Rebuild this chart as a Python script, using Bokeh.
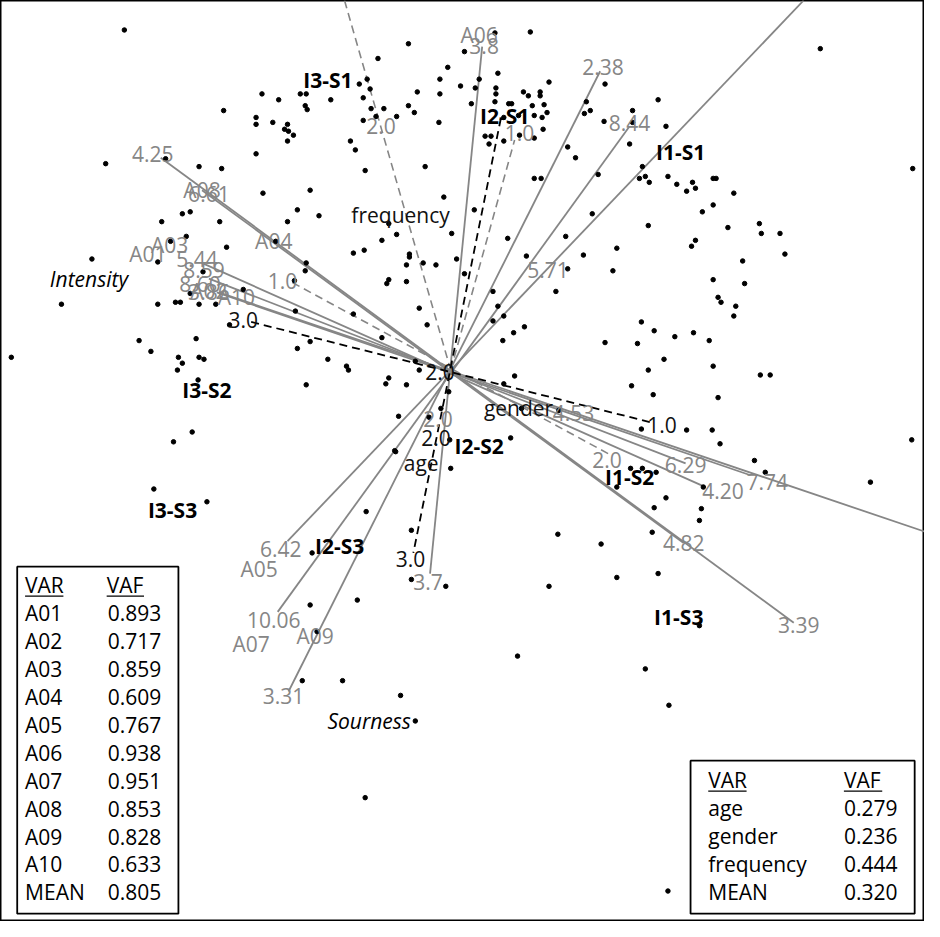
from bokeh.plotting import figure
from bokeh.models import Range1d, ColumnDataSource
from bokeh.embed import file_html
from bokeh.resources import INLINE
from bokeh.core.properties import value

FONT = "Open Sans"

# ---- object points (picture-pixel coordinates) ----
dot_points = [
    (126,30),(415,44),(384,59),(455,68),(447,80),(468,87),(365,85),(373,80),(376,90),(424,93),
    (447,95),(266,95),(283,101),(305,95),(311,95),(336,101),(369,99),(503,33),(539,32),(472,52),
    (506,74),(487,80),(483,89),(504,89),(504,95),(532,93),(537,97),(549,93),(549,97),(558,83),
    (615,85),(834,49),
    (310,107),(312,111),(377,110),(390,110),(415,107),(421,114),(382,118),(403,118),(369,122),(446,124),
    (227,112),(260,119),(260,126),(277,124),(292,126),(289,131),(293,133),(298,137),(292,143),(260,156),
    (356,143),(361,152),(371,173),(432,169),(107,166),(168,161),(202,169),(225,171),(267,196),(315,193),
    (451,200),(503,103),(479,105),(517,105),(520,105),(541,107),(553,106),(556,114),(543,117),(551,119),
    (527,117),(512,119),(552,131),(543,140),(493,138),(499,138),(497,146),(512,143),(528,137),(596,103),
    (600,112),(594,115),(614,123),(643,112),(643,124),(669,101),(677,128),(640,146),(577,149),(585,160),
    (608,177),(543,181),(550,181),(653,169),(656,179),(650,181),(660,185),(679,179),(688,187),(698,194),
    (704,185),(707,191),(725,181),(728,181),(746,196),(928,171),
    (302,213),(324,219),(292,225),(164,225),(185,217),(193,215),(223,225),(395,227),(403,238),(459,237),
    (388,244),(189,240),(173,245),(230,251),(280,245),(359,257),(370,254),(416,258),(416,261),(430,267),
    (413,269),(443,269),(464,263),(482,213),(472,278),(395,284),(393,288),(413,286),(310,275),(311,267),
    (299,285),(501,296),(516,242),(535,260),(575,240),(593,259),(577,273),(565,296),(725,208),(714,215),
    (659,229),(740,231),(772,227),(774,237),(793,237),(798,258),(627,252),(623,275),(707,244),(703,250),
    (755,265),(757,288),(725,284),(602,217),(93,263),(160,266),(206,276),(247,294),(193,298),
    (506,311),(512,321),(501,326),(522,338),(533,332),(511,346),(523,382),(300,316),(359,319),(426,313),
    (434,330),(388,343),(315,347),(302,354),(333,365),(352,372),(354,376),(311,391),(395,384),(392,390),
    (413,391),(426,376),(456,398),(422,367),(512,390),(730,302),(733,307),(748,311),(746,321),(652,327),
    (665,336),(686,342),(705,338),(721,346),(615,348),(648,349),(675,365),(725,372),(659,376),(62,309),
    (160,309),(178,307),(183,307),(202,309),(219,309),(233,330),(141,346),(199,344),(153,357),(11,363),
    (181,363),(185,369),(202,363),(207,365),(180,376),(201,386),(773,381),(783,381),
    (448,415),(405,423),(436,424),(401,458),(457,447),(519,445),(530,415),(568,417),(458,476),(195,439),
    (176,449),(156,497),(210,510),(642,392),(664,401),(730,404),(652,436),(698,437),(724,437),(732,451),
    (767,468),(778,480),(927,447),(885,490),(641,476),(653,476),(667,480),(627,495),(715,495),(677,506),
    (665,516),(713,517),(711,529),(567,543),(611,553),(663,541),(627,587),(669,583),(558,596),(711,636),
    (526,667),(656,680),(680,717),(679,906),(402,459),(372,520),(418,539),(317,562),(418,589),(453,596),
    (315,615),(363,610),(322,642),(307,692),(348,692),(407,707),(422,733),(371,811),
]
dot_x = [p[0] for p in dot_points]
dot_y = [p[1] for p in dot_points]

# ---- attribute biplot axes (solid grey), end points ----
axis_names = ["A06", "A09", "A07", "A05", "A08", "A04", "A03", "A01", "A10", "A02"]
axis_x0 = [490, 610, 640, 817, 163, 205, 207, 212, 220, 222]
axis_y0 = [47, 72, 128, 0, 160, 193, 268, 283, 297, 297]
axis_x1 = [437, 293, 282, 292, 807, 695, 715, 697, 763, 945]
axis_y1 = [583, 703, 622, 550, 633, 552, 494, 471, 483, 542]

# ---- background-variable axes (dashed) ----
bk_x0 = [255, 509]
bk_y0 = [327, 120]
bk_x1 = [665, 420]
bk_y1 = [430, 562]
gr_x0 = [350, 458, 297]
gr_y0 = [0, 376, 287]
gr_x1 = [458, 523, 620]
gr_y1 = [376, 142, 462]

# ---- grey calibration / attribute labels ----
grey_text = ["4.25", "A08", "6.61", "A04", "A01", "A03", "5.44", "8.59", "8.60", "A02", "3.86", "A10",
             "1.0", "2.0", "A06", "3.8", "1.0", "2.38", "8.44", "5.71", "4.53", "2.0", "2.0", "6.29",
             "4.20", "7.74", "4.82", "3.39", "6.42", "A05", "10.06", "A07", "A09", "3.31", "3.7"]
grey_x = [155, 205, 212, 278, 150, 172, 200, 207, 203, 212, 212, 240,
          287, 387, 487, 492, 528, 613, 640, 557, 583, 445, 617, 697,
          735, 780, 695, 812, 285, 263, 278, 255, 320, 288, 435]
grey_y = [156, 193, 197, 245, 258, 249, 263, 274, 288, 296, 297, 302,
          285, 128, 35, 46, 135, 68, 125, 274, 420, 426, 467, 473,
          499, 490, 552, 635, 558, 578, 630, 655, 647, 708, 592]

# ---- black labels ----
black_text = ["frequency", "gender", "age", "2.0", "2.0", "3.0", "1.0", "3.0"]
black_x = [407, 527, 428, 447, 443, 247, 673, 417]
black_y = [218, 415, 471, 378, 445, 325, 432, 568]

group_text = ["I3-S1", "I2-S1", "I1-S1", "I3-S2", "I2-S2", "I1-S2", "I3-S3", "I2-S3", "I1-S3"]
group_x = [333, 513, 692, 210, 487, 640, 175, 345, 690]
group_y = [81, 117, 154, 396, 453, 485, 518, 555, 627]

dim_text = ["Intensity", "Sourness"]
dim_x = [90, 375]
dim_y = [283, 733]

# ---- VAF tables ----
attr_vars = ["A01", "A02", "A03", "A04", "A05", "A06", "A07", "A08", "A09", "A10", "MEAN"]
attr_vaf = ["0.893", "0.717", "0.859", "0.609", "0.767", "0.938", "0.951", "0.853", "0.828", "0.633", "0.805"]
bg_vars = ["age", "gender", "frequency", "MEAN"]
bg_vaf = ["0.279", "0.236", "0.444", "0.320"]

p = figure(width=924, height=921, x_range=Range1d(0, 940), y_range=Range1d(937, 0),
           output_backend="svg", toolbar_location=None, min_border=0)
p.axis.visible = False
p.grid.visible = False
p.outline_line_color = "black"
p.outline_line_width = 2
p.background_fill_color = "white"

GREY = "#868686"
p.segment(axis_x0, axis_y0, axis_x1, axis_y1, line_color=GREY, line_width=1.8)
p.segment(gr_x0, gr_y0, gr_x1, gr_y1, line_color=GREY, line_width=1.6, line_dash="8 5")
p.segment(bk_x0, bk_y0, bk_x1, bk_y1, line_color="black", line_width=1.8, line_dash="8 5")

p.scatter(dot_x, dot_y, size=4.5, color="black")

def txt(xs, ys, ts, color, size="21px", style="normal", align="center"):
    src = ColumnDataSource(dict(x=xs, y=ys, t=ts))
    p.text("x", "y", text="t", source=src, text_color=color, text_font=value(FONT),
           text_font_size=size, text_font_style=style, text_align=align, text_baseline="middle")

txt(grey_x, grey_y, grey_text, GREY)
txt(black_x, black_y, black_text, "#111111")
txt(group_x, group_y, group_text, "black", style="bold")
txt(dim_x, dim_y, dim_text, "black", style="italic")

# left table
row_h = 28.4
lt_rows_y = [595 + row_h * (i + 1) for i in range(len(attr_vars))]
p.quad(left=[17], right=[181], top=[576], bottom=[929], fill_color=None, line_color="black", line_width=1.8)
txt([25, 108], [595, 595], ["VAR", "VAF"], "black", align="left")
p.segment([25, 108], [606, 606], [64, 146], [606, 606], line_color="black", line_width=1.3)
txt([25] * len(attr_vars), lt_rows_y, attr_vars, "black", align="left")
txt([109] * len(attr_vaf), lt_rows_y, attr_vaf, "black", align="left")

# right table
rt_head = 907 - row_h * len(bg_vars)
rt_rows_y = [rt_head + row_h * (i + 1) for i in range(len(bg_vars))]
p.quad(left=[702], right=[930], top=[rt_head - 20], bottom=[929], fill_color=None, line_color="black", line_width=1.8)
txt([720, 858], [rt_head, rt_head], ["VAR", "VAF"], "black", align="left")
p.segment([720, 858], [rt_head + 11, rt_head + 11], [759, 897], [rt_head + 11, rt_head + 11],
          line_color="black", line_width=1.3)
txt([720] * len(bg_vars), rt_rows_y, bg_vars, "black", align="left")
txt([858] * len(bg_vaf), rt_rows_y, bg_vaf, "black", align="left")

open("out.html", "w").write(file_html(p, INLINE))
